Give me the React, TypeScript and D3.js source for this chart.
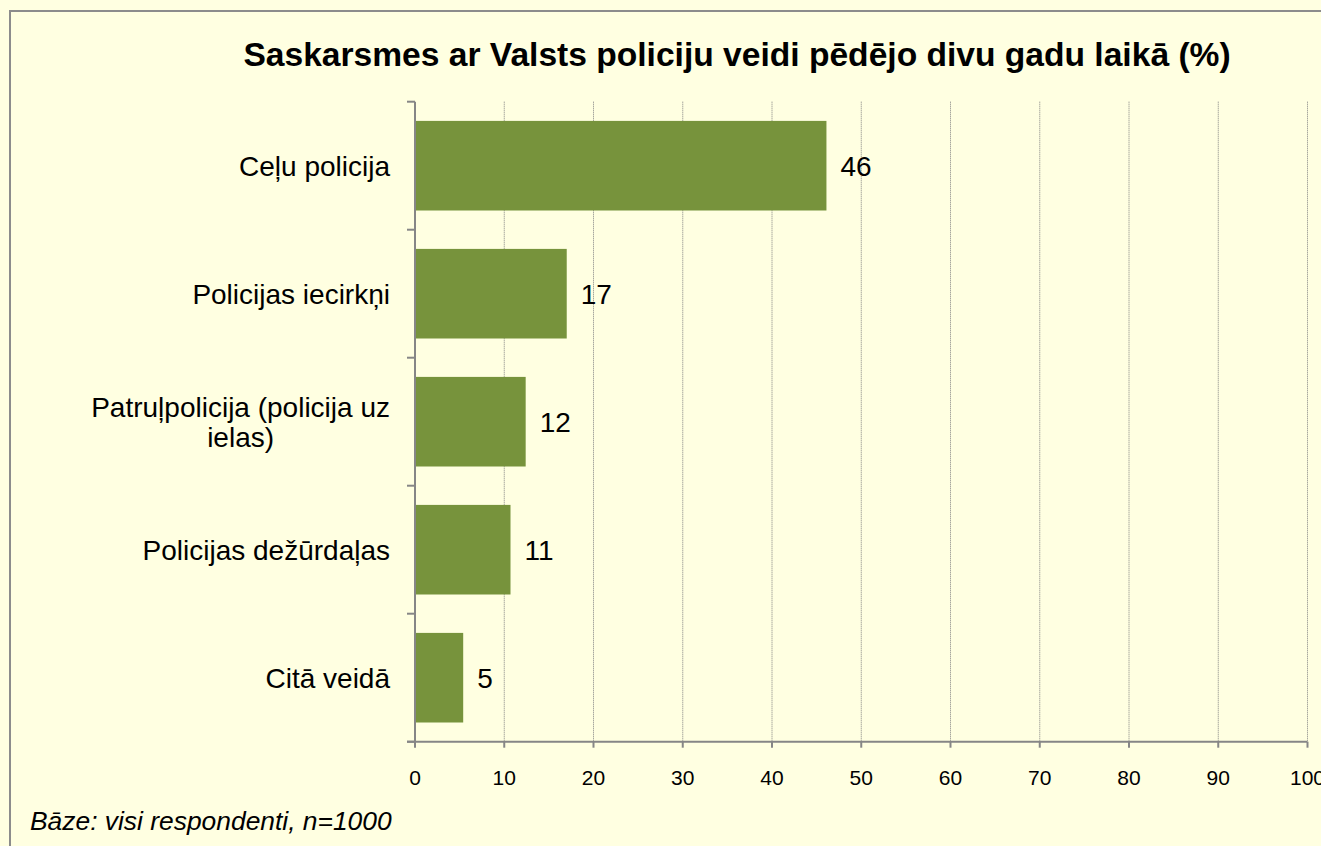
import React, { useEffect, useRef } from "react";
import * as d3 from "d3";

const title = "Saskarsmes ar Valsts policiju veidi pēdējo divu gadu laikā (%)";
const footnote = "Bāze: visi respondenti, n=1000";
const categories = [
  "Ceļu policija",
  "Policijas iecirkņi",
  "Patruļpolicija (policija uz ielas)",
  "Policijas dežūrdaļas",
  "Citā veidā",
];
const values = [46.1, 17.0, 12.4, 10.7, 5.4];
const xTicks = [0, 10, 20, 30, 40, 50, 60, 70, 80, 90, 100];

const W = 1321;
const H = 846;
const FONT = "'Liberation Sans', Arial, sans-serif";

export default function App() {
  const ref = useRef<SVGSVGElement | null>(null);

  useEffect(() => {
    document.body.style.margin = "0";
    const svg = d3.select(ref.current);
    svg.selectAll("*").remove();

    const left = 415, right = 1307.5, top = 101.7, bottom = 741.7;

    svg.append("rect").attr("x", 0).attr("y", 0).attr("width", W).attr("height", H).attr("fill", "#FFFFE1");
    svg.append("rect").attr("x", 10).attr("y", 11).attr("width", W + 20).attr("height", H + 20)
      .attr("fill", "none").attr("stroke", "#8C8C8C").attr("stroke-width", 2);

    const x = d3.scaleLinear().domain([0, 100]).range([left, right]);
    const y = d3.scaleBand<string>().domain(categories).range([top, bottom]).paddingInner(0.3).paddingOuter(0.15);

    // gridlines
    svg.append("g").selectAll("line").data(xTicks.slice(1)).join("line")
      .attr("x1", (d) => x(d)).attr("x2", (d) => x(d))
      .attr("y1", top).attr("y2", bottom)
      .attr("stroke", "#808080").attr("stroke-width", 1).attr("stroke-dasharray", "1,1");

    // bars
    svg.append("g").selectAll("rect").data(categories).join("rect")
      .attr("x", x(0))
      .attr("y", (d) => y(d)!)
      .attr("width", (_d, i) => x(values[i]) - x(0))
      .attr("height", y.bandwidth())
      .attr("fill", "#77933C");

    // axes
    const axisColor = "#868686";
    svg.append("line").attr("x1", left).attr("x2", left).attr("y1", top).attr("y2", bottom)
      .attr("stroke", axisColor).attr("stroke-width", 2);
    svg.append("line").attr("x1", left - 8).attr("x2", right).attr("y1", bottom).attr("y2", bottom)
      .attr("stroke", axisColor).attr("stroke-width", 2);
    const step = y.step();
    const yTickPos = d3.range(categories.length + 1).map((i) => top + i * step);
    svg.append("g").selectAll("line").data(yTickPos).join("line")
      .attr("x1", left - 8).attr("x2", left).attr("y1", (d) => d).attr("y2", (d) => d)
      .attr("stroke", axisColor).attr("stroke-width", 2);
    svg.append("g").selectAll("line").data(xTicks).join("line")
      .attr("x1", (d) => x(d)).attr("x2", (d) => x(d)).attr("y1", bottom).attr("y2", bottom + 6)
      .attr("stroke", axisColor).attr("stroke-width", 2);

    // x tick labels
    svg.append("g").selectAll("text").data(xTicks).join("text")
      .attr("x", (d) => x(d)).attr("y", 785)
      .attr("text-anchor", "middle")
      .attr("font-family", FONT).attr("font-size", 21).attr("fill", "#000")
      .text((d) => String(d));

    // value labels
    svg.append("g").selectAll("text").data(categories).join("text")
      .attr("x", (_d, i) => x(values[i]) + 14)
      .attr("y", (d) => y(d)! + y.bandwidth() / 2)
      .attr("dy", "0.35em")
      .attr("font-family", FONT).attr("font-size", 28).attr("fill", "#000")
      .text((_d, i) => String(Math.round(values[i])));

    // category labels (wrapped, centred lines like Excel)
    const labelRight = 390;
    const maxW = 315;
    const fs = 28;
    const lineH = 30;
    const gLab = svg.append("g");
    categories.forEach((cat) => {
      const meas = gLab.append("text").attr("font-family", FONT).attr("font-size", fs);
      const words = cat.split(" ");
      const lines: string[] = [];
      let cur = "";
      words.forEach((w) => {
        const test = cur ? cur + " " + w : w;
        meas.text(test);
        if ((meas.node() as SVGTextElement).getComputedTextLength() > maxW && cur) {
          lines.push(cur);
          cur = w;
        } else cur = test;
      });
      if (cur) lines.push(cur);
      const widths = lines.map((l) => {
        meas.text(l);
        return (meas.node() as SVGTextElement).getComputedTextLength();
      });
      meas.remove();
      const blockW = Math.max(...widths);
      const cx = labelRight - blockW / 2;
      const cy = y(cat)! + y.bandwidth() / 2;
      const t = gLab.append("text").attr("font-family", FONT).attr("font-size", fs).attr("fill", "#000")
        .attr("text-anchor", "middle");
      lines.forEach((l, j) => {
        t.append("tspan").attr("x", cx)
          .attr("y", cy + (j - (lines.length - 1) / 2) * lineH)
          .attr("dy", "0.35em").text(l);
      });
    });

    // title
    svg.append("text").attr("x", 737).attr("y", 66).attr("text-anchor", "middle")
      .attr("font-family", FONT).attr("font-size", 33.6).attr("font-weight", "bold").attr("fill", "#000")
      .text(title);

    // footnote
    svg.append("text").attr("x", 30).attr("y", 830)
      .attr("font-family", FONT).attr("font-size", 26.4).attr("font-style", "italic").attr("fill", "#000")
      .text(footnote);
  }, []);

  return <svg ref={ref} width={W} height={H} style={{ display: "block" }} />;
}
